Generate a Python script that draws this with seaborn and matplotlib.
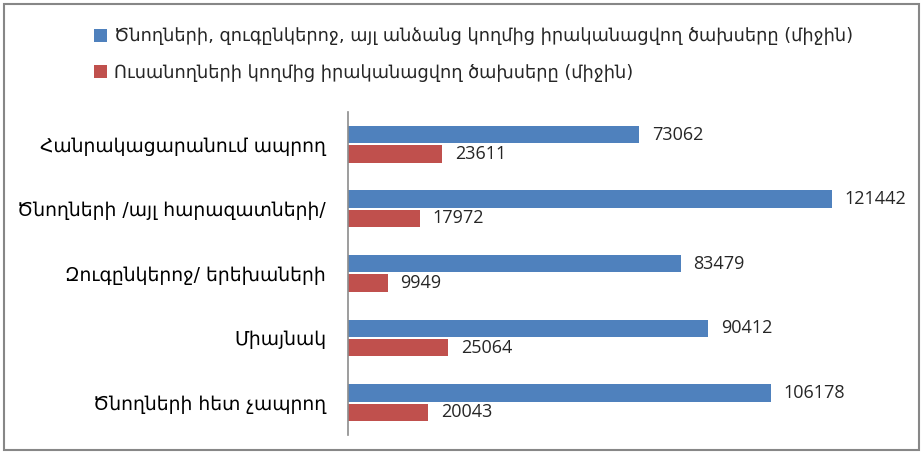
import matplotlib
matplotlib.use("Agg")
import matplotlib.pyplot as plt
import seaborn as sns
import pandas as pd
from matplotlib.patches import Patch, Rectangle

categories = [
    "Հանրակացարանում ապրող",
    "Ծնողների /այլ հարազատների/",
    "Զուգընկերոջ/ երեխաների",
    "Միայնակ",
    "Ծնողների հետ չապրող",
]
series_names = [
    "Ծնողների, զուգընկերոջ, այլ անձանց կողմից իրականացվող ծախսերը (միջին)",
    "Ուսանողների կողմից իրականացվող ծախսերը (միջին)",
]
parents_values = [73062, 121442, 83479, 90412, 106178]
students_values = [23611, 17972, 9949, 25064, 20043]
colors = ["#4F81BD", "#C0504D"]

df = pd.DataFrame({
    "category": categories * 2,
    "series": [series_names[0]] * 5 + [series_names[1]] * 5,
    "value": parents_values + students_values,
})

sns.set_theme(style="white")
plt.rcParams["font.family"] = ["DejaVu Sans"]

fig = plt.figure(figsize=(9.23, 4.53), dpi=100)
ax = fig.add_axes([0.3775, 0.040, 0.5975, 0.713])

sns.barplot(data=df, y="category", x="value", hue="series", order=categories,
            hue_order=series_names, palette=colors, orient="h", width=0.6,
            gap=0.1, ax=ax, legend=False, edgecolor="none", saturation=1)

for cont in ax.containers:
    ax.bar_label(cont, labels=[f"{int(v)}" for v in cont.datavalues], padding=9,
                 fontsize=13, family="Open Sans", color="#262626")

ax.set_xlim(0, 138500)
ax.set_ylim(4.5, -0.5)
ax.set_xlabel("")
ax.set_ylabel("")
ax.set_xticks([])
for s in ["top", "right", "bottom"]:
    ax.spines[s].set_visible(False)
ax.spines["left"].set_color("#8C8C8C")
ax.spines["left"].set_linewidth(1.2)
ax.tick_params(axis="y", length=0, pad=16, labelsize=13.5, labelcolor="#000000")

handles = [Patch(facecolor=c, edgecolor="none") for c in colors]
fig.legend(handles, series_names, loc="upper left", bbox_to_anchor=(0.094, 0.955),
           frameon=False, fontsize=12.8, handlelength=0.75, handleheight=0.75,
           handletextpad=0.4, labelspacing=1.05, borderaxespad=0)

fig.patches.append(Rectangle((0.004, 0.006), 0.992, 0.986, transform=fig.transFigure,
                             fill=False, edgecolor="#878787", linewidth=1.5))

fig.savefig("out.png", dpi=100)
